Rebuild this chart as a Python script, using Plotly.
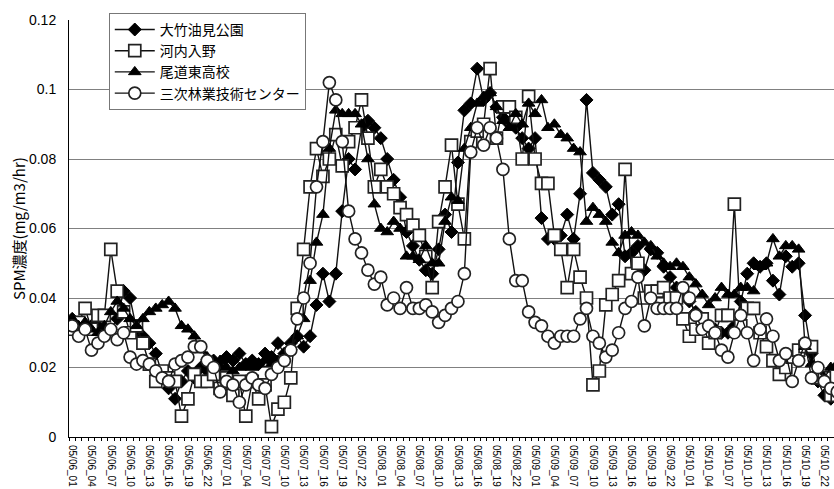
import plotly.graph_objects as go

# Hourly SPM concentration, 05/06 01:00 onwards (one value per hour)
start_day = 6
start_hour = 1
n_hours = 120

otake = [
    0.034, 0.033, 0.031, 0.032, 0.032, 0.030, 0.031, 0.034, 0.042, 0.040,
    0.031, 0.029, 0.027, 0.024, 0.018, 0.014, 0.011, 0.016, 0.019, 0.017,
    0.020, 0.019, 0.022, 0.021, 0.023, 0.022, 0.024, 0.021, 0.022, 0.021,
    0.024, 0.023, 0.027, 0.024, 0.027, 0.029, 0.026, 0.029, 0.038, 0.047,
    0.039, 0.047, 0.065, 0.080, 0.077, 0.089, 0.091, 0.089, 0.086, 0.080,
    0.074, 0.069, 0.059, 0.055, 0.051, 0.048, 0.047, 0.054, 0.064, 0.059,
    0.079, 0.094, 0.096, 0.106, 0.097, 0.099, 0.095, 0.092, 0.090, 0.089,
    0.086, 0.083, 0.086, 0.063, 0.057, 0.057, 0.058, 0.064, 0.057, 0.070,
    0.097, 0.076, 0.074, 0.072, 0.064, 0.067, 0.052, 0.053, 0.055, 0.048,
    0.054, 0.053, 0.049, 0.046, 0.043, 0.042, 0.039, 0.036, 0.034, 0.032,
    0.031, 0.030, 0.030, 0.032, 0.039, 0.047, 0.050, 0.049, 0.050, 0.045,
    0.041, 0.052, 0.049, 0.050, 0.035, 0.024, 0.016, 0.012, 0.011, 0.012,
]

kawachi = [
    0.031, 0.033, 0.037, 0.031, 0.035, 0.035, 0.054, 0.042, 0.036, 0.030,
    0.032, 0.027, 0.021, 0.016, 0.019, 0.017, 0.016, 0.006, 0.011, 0.018,
    0.016, 0.016, 0.018, 0.014, 0.017, 0.012, 0.016, 0.006, 0.016, 0.011,
    0.015, 0.003, 0.008, 0.010, 0.017, 0.037, 0.054, 0.072, 0.083, 0.075,
    0.080, 0.087, 0.078, 0.085, 0.089, 0.097, 0.086, 0.072, 0.077, 0.072,
    0.070, 0.066, 0.064, 0.061, 0.058, 0.052, 0.043, 0.062, 0.072, 0.084,
    0.067, 0.057, 0.085, 0.088, 0.090, 0.106, 0.086, 0.095, 0.095, 0.092,
    0.080, 0.098, 0.080, 0.073, 0.073, 0.058, 0.054, 0.043, 0.054, 0.046,
    0.040, 0.015, 0.019, 0.038, 0.041, 0.045, 0.077, 0.047, 0.050, 0.040,
    0.042, 0.042, 0.043, 0.040, 0.040, 0.034, 0.029, 0.031, 0.034, 0.027,
    0.030, 0.035, 0.035, 0.067, 0.032, 0.037, 0.037, 0.030, 0.026, 0.022,
    0.018, 0.020, 0.023, 0.025, 0.026, 0.026, 0.017, 0.017, 0.012, 0.012,
]

onomichi = [
    0.034, 0.032, 0.033, 0.031, 0.030, 0.032, 0.036, 0.039, 0.037, 0.034,
    0.032, 0.034, 0.036, 0.037, 0.038, 0.039, 0.037, 0.032, 0.031, 0.029,
    0.025, 0.023, 0.021, 0.022, 0.020, 0.019, 0.020, 0.021, 0.020, 0.021,
    0.022, 0.021, 0.022, 0.023, 0.026, 0.029, 0.034, 0.045, 0.056, 0.064,
    0.083, 0.094, 0.093, 0.093, 0.093, 0.090, 0.080, 0.067, 0.060, 0.059,
    0.062, 0.060, 0.052, 0.052, 0.051, 0.055, 0.050, 0.050, 0.062, 0.069,
    0.068, 0.083, 0.089, 0.096, 0.098, 0.099, 0.095, 0.091, 0.089, 0.093,
    0.090, 0.096, 0.093, 0.097, 0.089, 0.090, 0.087, 0.086, 0.083, 0.082,
    0.062, 0.066, 0.064, 0.062, 0.056, 0.053, 0.058, 0.059, 0.058, 0.056,
    0.055, 0.052, 0.050, 0.049, 0.050, 0.049, 0.046, 0.044, 0.041, 0.038,
    0.040, 0.043, 0.041, 0.041, 0.043, 0.043, 0.042, 0.049, 0.050, 0.057,
    0.052, 0.055, 0.055, 0.054, 0.026, 0.021, 0.019, 0.017, 0.020, 0.021,
]

miyoshi = [
    0.032, 0.029, 0.031, 0.025, 0.027, 0.029, 0.031, 0.028, 0.030, 0.023,
    0.021, 0.022, 0.021, 0.019, 0.017, 0.016, 0.021, 0.022, 0.023, 0.026,
    0.026, 0.022, 0.020, 0.013, 0.016, 0.015, 0.010, 0.015, 0.017, 0.015,
    0.014, 0.018, 0.020, 0.022, 0.025, 0.034, 0.040, 0.050, 0.072, 0.085,
    0.102, 0.097, 0.085, 0.065, 0.057, 0.053, 0.048, 0.044, 0.046, 0.038,
    0.040, 0.037, 0.043, 0.037, 0.037, 0.038, 0.036, 0.033, 0.035, 0.037,
    0.039, 0.047, 0.082, 0.089, 0.084, 0.089, 0.086, 0.077, 0.057, 0.045,
    0.045, 0.036, 0.033, 0.032, 0.029, 0.027, 0.029, 0.029, 0.029, 0.034,
    0.037, 0.029, 0.027, 0.023, 0.025, 0.030, 0.037, 0.039, 0.046, 0.032,
    0.040, 0.037, 0.037, 0.037, 0.037, 0.043, 0.040, 0.035, 0.031, 0.032,
    0.030, 0.025, 0.023, 0.030, 0.035, 0.030, 0.022, 0.031, 0.034, 0.029,
    0.022, 0.024, 0.016, 0.022, 0.027, 0.017, 0.020, 0.016, 0.014, 0.013,
]

series_names = ["大竹油見公園", "河内入野", "尾道東高校", "三次林業技術センター"]

y_tick_vals = [0, 0.02, 0.04, 0.06, 0.08, 0.1, 0.12]
y_tick_text = ["0", "0.02", "0.04", "0.06", "0.08", "0.1", "0.12"]

# Hour labels "05/DD_HH"
hour_labels = []
for k in range(n_hours):
    total = start_hour + k
    day = start_day + total // 24
    hour = total % 24
    hour_labels.append(f"05/{day:02d}_{hour:02d}")

x_idx = list(range(n_hours))
label_idx = x_idx[::3]
label_text = [hour_labels[k] for k in label_idx]

FONT = "Liberation Sans, Arial, Noto Sans CJK JP, sans-serif"
JP_FONT = "Noto Sans CJK JP, Liberation Sans, sans-serif"

styles = [
    dict(symbol="diamond", size=10, color="black", line=dict(color="black", width=1)),
    dict(symbol="square", size=12, color="white", line=dict(color="#222", width=1.7)),
    dict(symbol="triangle-up", size=11, color="black", line=dict(color="black", width=1)),
    dict(symbol="circle", size=12, color="white", line=dict(color="#222", width=1.7)),
]

fig = go.Figure()
for name, vals, st in zip(series_names, [otake, kawachi, onomichi, miyoshi], styles):
    fig.add_trace(go.Scatter(
        x=x_idx, y=vals, name=name, mode="lines+markers",
        line=dict(color="#111", width=1.4),
        marker=st,
    ))

fig.update_layout(
    width=834, height=489,
    margin=dict(l=69, r=0, t=20, b=52),
    paper_bgcolor="white", plot_bgcolor="white",
    font=dict(family=FONT, size=12, color="black"),
    showlegend=True,
    legend=dict(
        x=0.052, y=1.017, xanchor="left", yanchor="top",
        bgcolor="white", bordercolor="#777", borderwidth=1,
        font=dict(family=JP_FONT, size=14, color="black"),
        tracegroupgap=0, itemwidth=40,
    ),
)

fig.update_xaxes(
    range=[-0.5, 118.5],
    tickmode="array", tickvals=label_idx, ticktext=label_text,
    tickangle=90, tickfont=dict(family=FONT, size=10),
    ticks="", ticklabelstandoff=5,
    showline=True, linecolor="black", linewidth=1,
    showgrid=False, zeroline=False,
    minor=dict(tickmode="linear", tick0=-0.5, dtick=1,
               ticks="outside", ticklen=3, tickcolor="black", showgrid=False),
)

fig.update_yaxes(
    range=[0, 0.12],
    tickmode="array", tickvals=y_tick_vals, ticktext=y_tick_text,
    tickfont=dict(family=FONT, size=14),
    ticks="", ticklabelstandoff=9,
    showline=True, linecolor="black", linewidth=1,
    showgrid=True, gridcolor="#808080", gridwidth=1,
    zeroline=False,
)

fig.add_annotation(
    text="SPM濃度(mg/m3/hr)", textangle=-90,
    xref="paper", yref="paper", x=-0.066, y=0.5,
    xanchor="center", yanchor="middle", showarrow=False,
    font=dict(family=JP_FONT, size=15, color="black"),
)

fig.write_html("out.html")
